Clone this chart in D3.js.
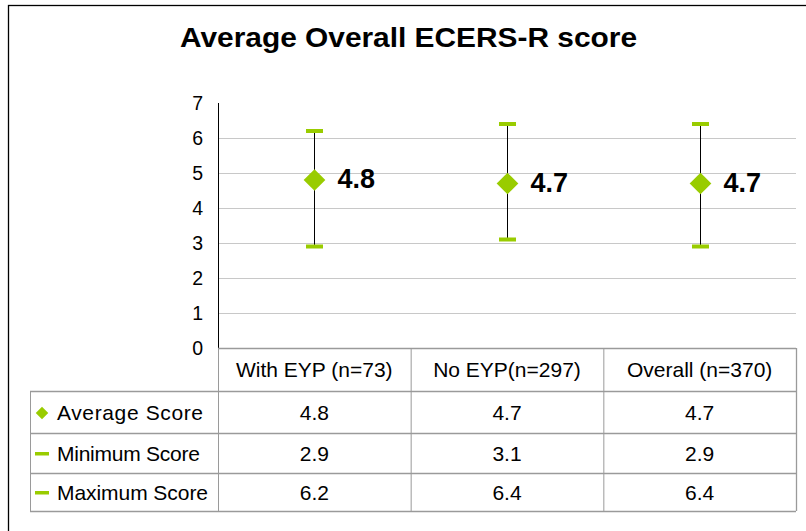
<!DOCTYPE html>
<html>
<head>
<meta charset="utf-8">
<script src="https://cdn.jsdelivr.net/npm/d3@7"></script>
<style>
  body { margin: 0; background: #fff; }
  svg { display: block; font-family: "Liberation Sans", Arial, sans-serif; }
</style>
</head>
<body>
<div id="app"></div>
<script>
const categories = ['With EYP (n=73)', 'No EYP(n=297)', 'Overall (n=370)'];
const averageScore = [4.8, 4.7, 4.7];
const minimumScore = [2.9, 3.1, 2.9];
const maximumScore = [6.2, 6.4, 6.4];
const yTicks = [0, 1, 2, 3, 4, 5, 6, 7];
const rowLabels = ['Average Score', 'Minimum Score', 'Maximum Score'];

const WIDTH = 806, HEIGHT = 531;
const GREEN = '#99cc00';
const GRID = '#c8c8c8';
const TABLE = '#9a9a9a';

const svg = d3.select('#app')
  .append('svg')
    .attr('width', WIDTH)
    .attr('height', HEIGHT);

// outer chart frame (runs off the right/bottom edge like the original)
svg.append('rect')
  .attr('x', 8.5).attr('y', 5.5)
  .attr('width', 820).attr('height', 540)
  .attr('fill', '#fff')
  .attr('stroke', '#000')
  .attr('stroke-width', 1.3);

svg.append('text')
  .attr('x', 180).attr('y', 47)
  .attr('font-size', 27)
  .attr('font-weight', 'bold')
  .attr('textLength', 457)
  .attr('lengthAdjust', 'spacingAndGlyphs')
  .text('Average Overall ECERS-R score');

const plot = { left: 218, right: 796, top: 103, bottom: 348 };

const x = d3.scaleBand()
  .domain(categories)
  .range([plot.left, plot.right]);

const y = d3.scaleLinear()
  .domain([0, 7])
  .range([plot.bottom, plot.top]);

// gridlines
svg.append('g')
  .selectAll('line')
  .data(yTicks.filter(t => t > 0 && t < 7))
  .enter()
  .append('line')
    .attr('x1', plot.left).attr('x2', plot.right)
    .attr('y1', d => Math.round(y(d)) + 0.5)
    .attr('y2', d => Math.round(y(d)) + 0.5)
    .attr('stroke', GRID);

// y axis labels
svg.append('g')
  .selectAll('text')
  .data(yTicks)
  .enter()
  .append('text')
    .attr('x', 203)
    .attr('y', d => y(d) + 6.5)
    .attr('text-anchor', 'end')
    .attr('font-size', 19.5)
    .text(d => d);

svg.append('line')
  .attr('x1', plot.left + 0.5).attr('x2', plot.left + 0.5)
  .attr('y1', plot.top).attr('y2', plot.bottom)
  .attr('stroke', '#000');

// data table
const tableLeft = 30;
const rowEdges = [348, 391, 433, 473, 511];
const tbl = svg.append('g').attr('stroke', TABLE).attr('fill', 'none');

tbl.append('line').attr('x1', plot.left).attr('x2', plot.right)
  .attr('y1', rowEdges[0] + 0.5).attr('y2', rowEdges[0] + 0.5).attr('stroke-width', 1.5);
rowEdges.slice(1).forEach(r => {
  tbl.append('line').attr('x1', tableLeft).attr('x2', plot.right)
    .attr('y1', r + 0.5).attr('y2', r + 0.5).attr('stroke-width', 1.3);
});
tbl.append('line').attr('x1', tableLeft + 0.5).attr('x2', tableLeft + 0.5)
  .attr('y1', rowEdges[1]).attr('y2', rowEdges[4]);
categories.forEach(c => {
  tbl.append('line').attr('x1', x(c) + 0.5).attr('x2', x(c) + 0.5)
    .attr('y1', rowEdges[0]).attr('y2', rowEdges[4]);
});
tbl.append('line').attr('x1', plot.right + 0.5).attr('x2', plot.right + 0.5)
  .attr('y1', rowEdges[0]).attr('y2', rowEdges[4]).attr('stroke-width', 1.3);

// header text
svg.append('g')
  .selectAll('text')
  .data(categories)
  .enter()
  .append('text')
    .attr('x', d => x(d) + x.bandwidth() / 2)
    .attr('y', 377)
    .attr('text-anchor', 'middle')
    .attr('font-size', 21)
    .text(d => d);

const rows = [averageScore, minimumScore, maximumScore];
const labelWidths = [146, 143, 151];
rows.forEach((vals, i) => {
  const cy = (rowEdges[i + 1] + rowEdges[i + 2]) / 2;
  svg.append('g')
    .selectAll('text')
    .data(vals)
    .enter()
    .append('text')
      .attr('x', (d, j) => x(categories[j]) + x.bandwidth() / 2)
      .attr('y', cy + 7.5)
      .attr('text-anchor', 'middle')
      .attr('font-size', 21)
      .text(d => d.toFixed(1));

  svg.append('text')
    .attr('x', 57)
    .attr('y', cy + 7.5)
    .attr('font-size', 21)
    .attr('textLength', labelWidths[i])
    .attr('lengthAdjust', 'spacing')
    .text(rowLabels[i]);

  if (i === 0) {
    svg.append('path')
      .attr('d', d3.symbol(d3.symbolDiamond2, 100)())
      .attr('transform', `translate(42,${cy + 1})`)
      .attr('fill', GREEN);
  } else {
    svg.append('rect')
      .attr('x', 35).attr('y', cy - 1)
      .attr('width', 14).attr('height', 3.5)
      .attr('fill', GREEN);
  }
});

// error bars
const bars = categories.map((c, i) => ({
  cat: c, avg: averageScore[i], min: minimumScore[i], max: maximumScore[i]
}));
const cx = d => Math.round(x(d.cat) + x.bandwidth() / 2) + 0.5;

svg.append('g')
  .selectAll('line')
  .data(bars)
  .enter()
  .append('line')
    .attr('x1', cx).attr('x2', cx)
    .attr('y1', d => y(d.max)).attr('y2', d => y(d.min))
    .attr('stroke', '#000');

['min', 'max'].forEach(k => {
  svg.append('g')
    .selectAll('rect')
    .data(bars)
    .enter()
    .append('rect')
      .attr('x', d => cx(d) - 8.5)
      .attr('y', d => y(d[k]) - 2)
      .attr('width', 17).attr('height', 4)
      .attr('fill', GREEN);
});

svg.append('g')
  .selectAll('path')
  .data(bars)
  .enter()
  .append('path')
    .attr('d', d3.symbol(d3.symbolDiamond2, 300)())
    .attr('transform', d => `translate(${cx(d)},${y(d.avg)})`)
    .attr('fill', GREEN);

svg.append('g')
  .selectAll('text')
  .data(bars)
  .enter()
  .append('text')
    .attr('x', d => cx(d) + 23)
    .attr('y', d => y(d.avg) + 8)
    .attr('font-size', 27)
    .attr('font-weight', 'bold')
    .text(d => d.avg.toFixed(1));
</script>
</body>
</html>
